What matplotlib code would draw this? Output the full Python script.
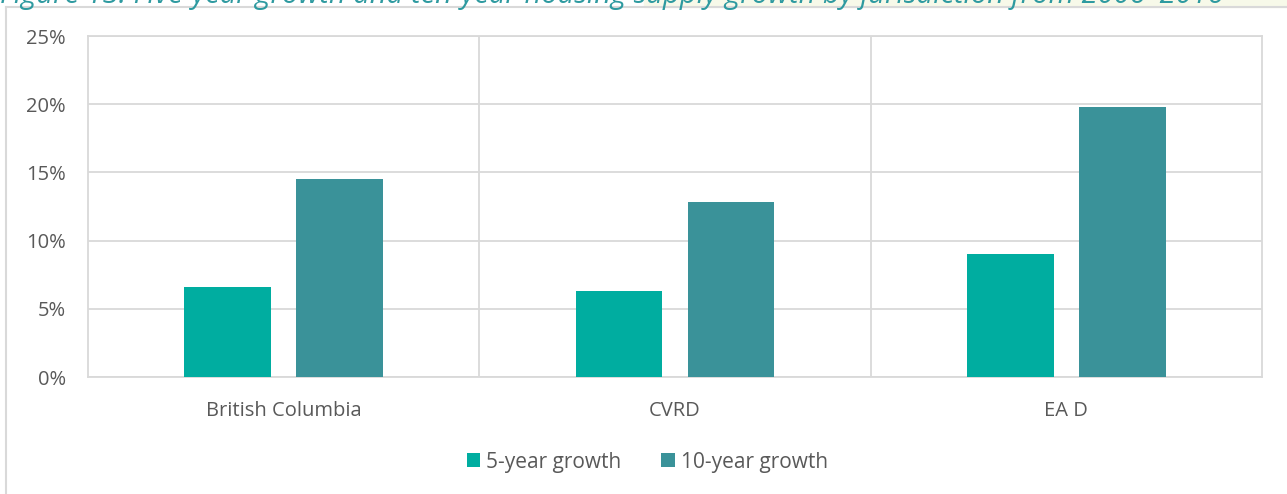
import matplotlib.pyplot as plt
import matplotlib.lines as mlines
import matplotlib.patches as mpatches
from matplotlib.ticker import FuncFormatter

regions = ['British Columbia', 'CVRD', 'EA D']
growth_5yr = [6.6, 6.3, 9.0]
growth_10yr = [14.5, 12.8, 19.8]
series_names = ['5-year growth', '10-year growth']
title = 'Figure 13: Five-year growth and ten-year housing supply growth by jurisdiction from 2006–2016'

c5 = '#00ADA0'
c10 = '#3A9299'
grid_c = '#D9D9D9'
text_c = '#595959'

plt.rcParams['font.family'] = ['Open Sans', 'DejaVu Sans']

fig = plt.figure(figsize=(12.87, 4.94), dpi=100)

# light tint behind the (cut off) caption
fig.patches.append(mpatches.Rectangle((0.5, 1 - 7/494), 0.5, 7/494, transform=fig.transFigure,
                                      color='#F7F9E9', zorder=0))
fig.text(0.0, 1 - 3/494, title, fontsize=21, style='italic', color='#2E9AA0',
         ha='left', va='baseline')

# outer chart frame (left + top)
fig.add_artist(mlines.Line2D([6/1287, 6/1287], [0, 1 - 7/494], transform=fig.transFigure,
                             color=grid_c, lw=1.5))
fig.add_artist(mlines.Line2D([6/1287, 1], [1 - 7/494, 1 - 7/494], transform=fig.transFigure,
                             color=grid_c, lw=1.5))

ax = fig.add_axes([88/1287, 1 - 377/494, (1262 - 88)/1287, (377 - 36)/494])

x = range(len(regions))
w = 0.222
off = 0.143
b1 = ax.bar([i - off for i in x], growth_5yr, w, color=c5, zorder=3)
b2 = ax.bar([i + off for i in x], growth_10yr, w, color=c10, zorder=3)

ax.set_xlim(-0.5, len(regions) - 0.5)
ax.set_ylim(0, 25)
ax.set_yticks([0, 5, 10, 15, 20, 25])
ax.yaxis.set_major_formatter(FuncFormatter(lambda v, p: '%d%%' % v))
ax.set_xticks(list(x))
ax.set_xticklabels(regions)

ax.yaxis.grid(True, color=grid_c, lw=1.3, zorder=0)
for b in [0.5, 1.5]:
    ax.axvline(b, color=grid_c, lw=1.3, zorder=0)
for s in ax.spines.values():
    s.set_color(grid_c)
    s.set_linewidth(1.3)

ax.tick_params(axis='both', length=0, colors=text_c, labelsize=14.5)
ax.tick_params(axis='y', pad=16)
ax.tick_params(axis='x', pad=17)

fig.legend((b1, b2), series_names, loc='center', bbox_to_anchor=(0.503, 1 - 462/494), ncol=2,
           frameon=False, fontsize=15, labelcolor=text_c, handlelength=0.65, handleheight=0.65,
           handletextpad=0.3, columnspacing=1.9)

fig.savefig('out.png', dpi=100)
